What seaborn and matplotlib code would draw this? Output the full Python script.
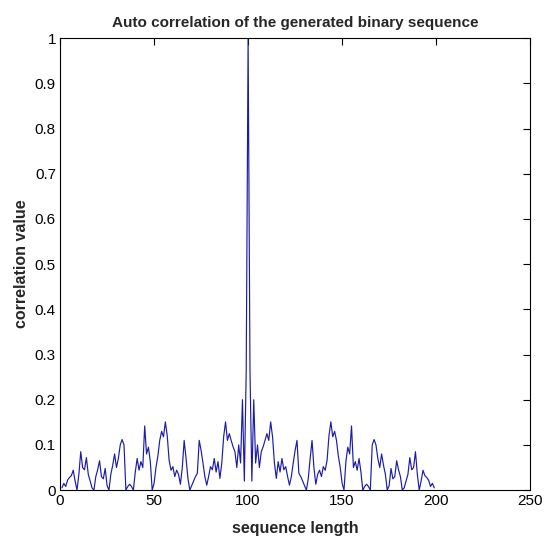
import numpy as np
import pandas as pd
import matplotlib
matplotlib.use("Agg")
import matplotlib.pyplot as plt
import seaborn as sns

# left half of the (symmetric) autocorrelation, lags 1..99, then the peak at 100
left_half = [0.005, 0.015, 0.008, 0.022, 0.028, 0.032, 0.044, 0.020, 0.000, 0.035,
             0.085, 0.050, 0.045, 0.072, 0.035, 0.020, 0.005, 0.000, 0.030, 0.045,
             0.065, 0.030, 0.025, 0.048, 0.010, 0.000, 0.035, 0.055, 0.080, 0.050,
             0.070, 0.100, 0.112, 0.100, 0.000, 0.008, 0.013, 0.008, 0.000, 0.040,
             0.070, 0.044, 0.063, 0.050, 0.142, 0.080, 0.095, 0.063, 0.000, 0.015,
             0.050, 0.075, 0.110, 0.130, 0.118, 0.151, 0.120, 0.066, 0.044, 0.052,
             0.030, 0.044, 0.035, 0.013, 0.050, 0.110, 0.070, 0.026, 0.000, 0.010,
             0.020, 0.030, 0.037, 0.110, 0.088, 0.060, 0.030, 0.011, 0.030, 0.052,
             0.045, 0.070, 0.040, 0.063, 0.026, 0.060, 0.118, 0.151, 0.110, 0.125,
             0.110, 0.096, 0.085, 0.050, 0.100, 0.060, 0.200, 0.020, 0.265]
peak_value = [1.0]
right_half = left_half[::-1]

values = left_half + peak_value + right_half
positions = list(range(1, len(values) + 1))

x_ticks = [0, 50, 100, 150, 200, 250]
y_ticks = [0, 0.1, 0.2, 0.3, 0.4, 0.5, 0.6, 0.7, 0.8, 0.9, 1]
y_tick_labels = ["0", "0.1", "0.2", "0.3", "0.4", "0.5", "0.6", "0.7", "0.8", "0.9", "1"]

df = pd.DataFrame({"sequence length": positions, "correlation value": values})

sns.set_theme(style="white")
plt.rcParams["font.family"] = ["Liberation Sans Narrow", "Liberation Sans", "DejaVu Sans"]

fig = plt.figure(figsize=(5.46, 5.38), dpi=100, facecolor="white")
ax = fig.add_axes([0.110, 0.089, 0.861, 0.840])
sns.lineplot(data=df, x="sequence length", y="correlation value", ax=ax,
             color="#1c1ca8", linewidth=0.85)

ax.set_xlim(0, 250)
ax.set_ylim(0, 1)
ax.set_xticks(x_ticks)
ax.set_xticklabels([str(t) for t in x_ticks])
ax.set_yticks(y_ticks)
ax.set_yticklabels(y_tick_labels)
ax.tick_params(direction="in", length=5, width=0.8, top=True, right=True,
               labelsize=11, colors="black", pad=3)
for s in ax.spines.values():
    s.set_color("black")
    s.set_linewidth(0.8)

ax.set_title("Auto correlation of the generated binary sequence", fontsize=11,
             fontweight="bold", pad=8)
ax.set_xlabel("sequence length", fontsize=11.5, fontweight="bold", labelpad=9)
ax.set_ylabel("correlation value", fontsize=11.5, fontweight="bold", labelpad=4)

fig.savefig("out.png", dpi=100, facecolor="white")
